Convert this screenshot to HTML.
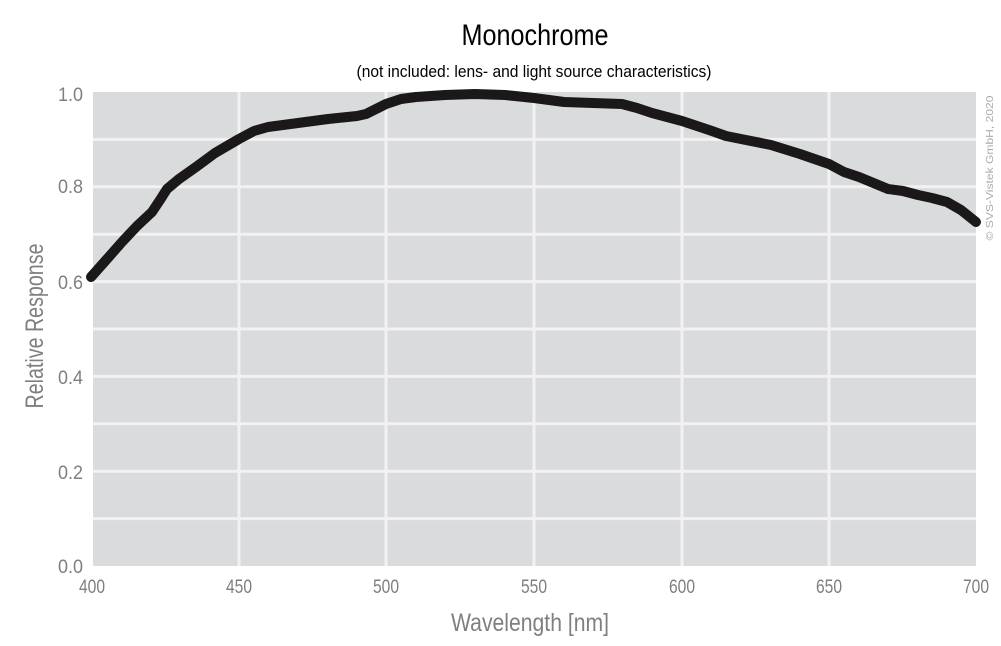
<!DOCTYPE html>
<html><head><style>body{margin:0;background:#fff}svg{display:block}text{font-family:"Liberation Sans Narrow","Liberation Sans",sans-serif}</style></head><body>
<svg width="1001" height="646" xmlns="http://www.w3.org/2000/svg">
<rect x="93" y="92" width="883" height="474" fill="#dadbdd"/>
<g stroke="#f2f2f2" stroke-width="3">
<line x1="93" y1="139.4" x2="976" y2="139.4"/><line x1="93" y1="186.8" x2="976" y2="186.8"/><line x1="93" y1="234.2" x2="976" y2="234.2"/><line x1="93" y1="281.6" x2="976" y2="281.6"/><line x1="93" y1="329" x2="976" y2="329"/><line x1="93" y1="376.4" x2="976" y2="376.4"/><line x1="93" y1="423.8" x2="976" y2="423.8"/><line x1="93" y1="471.2" x2="976" y2="471.2"/><line x1="93" y1="518.6" x2="976" y2="518.6"/>
<line x1="239" y1="92" x2="239" y2="566"/><line x1="386" y1="92" x2="386" y2="566"/><line x1="534" y1="92" x2="534" y2="566"/><line x1="682" y1="92" x2="682" y2="566"/><line x1="829" y1="92" x2="829" y2="566"/>
</g>
<polyline fill="none" stroke="#1a1818" stroke-width="10" stroke-linejoin="round" stroke-linecap="round" points="91,277 107,259 122,242 137,226 152,212 160,200 167,189 179,179 196,167 215,153 239,139 254,131 268,127 298,123 328,119 357,116 366,114 372,111 386,104 401,99 416,97 445,95 475,94 505,95 534,98 549,100 564,102 593,103 622,104 637,108 652,113 682,121 712,131 726,136 741,139 771,145 800,154 829,164 844,172 859,177 888,189 903,191 918,195 932,198 947,202 961,210 976,222"/>
<g fill="#7f7f7f" font-size="19" text-anchor="end" lengthAdjust="spacingAndGlyphs">
<text x="83" y="101" textLength="25" lengthAdjust="spacingAndGlyphs">1.0</text><text x="83" y="193" textLength="25" lengthAdjust="spacingAndGlyphs">0.8</text><text x="83" y="289" textLength="25" lengthAdjust="spacingAndGlyphs">0.6</text><text x="83" y="384" textLength="25" lengthAdjust="spacingAndGlyphs">0.4</text><text x="83" y="479" textLength="25" lengthAdjust="spacingAndGlyphs">0.2</text><text x="83" y="573" textLength="25" lengthAdjust="spacingAndGlyphs">0.0</text>
</g>
<g fill="#7f7f7f" font-size="19" text-anchor="middle">
<text x="92" y="593" textLength="26" lengthAdjust="spacingAndGlyphs">400</text><text x="239" y="593" textLength="26" lengthAdjust="spacingAndGlyphs">450</text><text x="386" y="593" textLength="26" lengthAdjust="spacingAndGlyphs">500</text><text x="534" y="593" textLength="26" lengthAdjust="spacingAndGlyphs">550</text><text x="682" y="593" textLength="26" lengthAdjust="spacingAndGlyphs">600</text><text x="829" y="593" textLength="26" lengthAdjust="spacingAndGlyphs">650</text><text x="976" y="593" textLength="26" lengthAdjust="spacingAndGlyphs">700</text>
</g>
<text x="530" y="631" fill="#7f7f7f" font-size="25" text-anchor="middle" textLength="158" lengthAdjust="spacingAndGlyphs">Wavelength [nm]</text>
<text transform="translate(43,326) rotate(-90)" fill="#7f7f7f" font-size="25" text-anchor="middle" textLength="165" lengthAdjust="spacingAndGlyphs">Relative Response</text>
<text x="535" y="45" fill="#000" font-size="30" text-anchor="middle" textLength="147" lengthAdjust="spacingAndGlyphs">Monochrome</text>
<text x="534" y="77" fill="#000" font-size="17" text-anchor="middle" textLength="355" lengthAdjust="spacingAndGlyphs">(not included: lens- and light source characteristics)</text>
<text transform="translate(993,168) rotate(-90)" fill="#aaa" font-size="10" text-anchor="middle" textLength="145" lengthAdjust="spacingAndGlyphs">© SVS-Vistek GmbH, 2020</text>
</svg>
</body></html>
